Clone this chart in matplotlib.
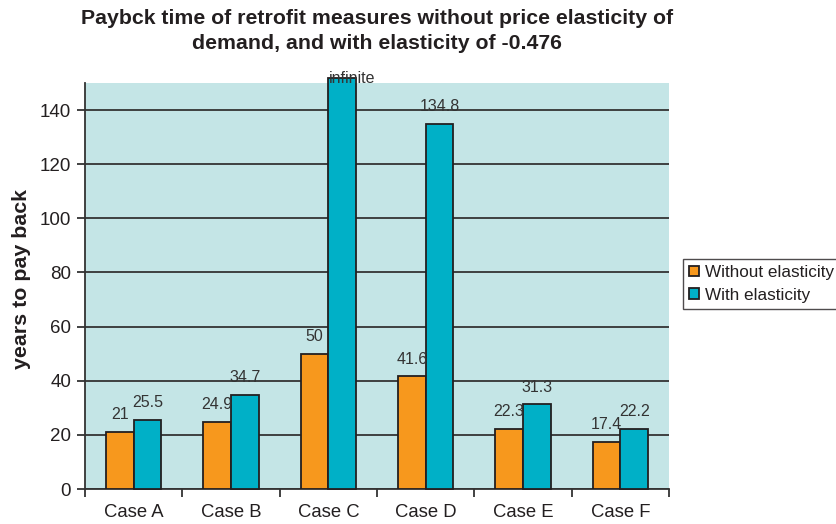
import matplotlib.pyplot as plt
import numpy as np

plt.rcParams["font.family"] = ["Liberation Sans", "DejaVu Sans"]

cases = ["Case A", "Case B", "Case C", "Case D", "Case E", "Case F"]
without_elasticity = [21, 24.9, 50, 41.6, 22.3, 17.4]
with_elasticity = [25.5, 34.7, 152, 134.8, 31.3, 22.2]
with_labels = ["25.5", "34.7", "infinite", "134.8", "31.3", "22.2"]
without_labels = ["21", "24.9", "50", "41.6", "22.3", "17.4"]
yticks = [0, 20, 40, 60, 80, 100, 120, 140]

orange = "#F7981D"
teal = "#00B0C7"
bg = "#C4E5E6"
dark = "#231F20"

fig = plt.figure(figsize=(8.36, 5.24), dpi=100)
ax = fig.add_axes([85 / 836, 1 - 489 / 524, (669 - 85) / 836, (489 - 83) / 524])
ax.set_facecolor(bg)

x = np.arange(len(cases))
w = 0.285
b1 = ax.bar(x - w / 2, without_elasticity, w, color=orange, edgecolor=dark,
            linewidth=1.3, zorder=3, label="Without elasticity")
b2 = ax.bar(x + w / 2, with_elasticity, w, color=teal, edgecolor=dark,
            linewidth=1.3, zorder=3, label="With elasticity", clip_on=False)

for xi, v, t in zip(x, without_elasticity, without_labels):
    ax.annotate(t, (xi - w / 2, v), xytext=(0, 7), textcoords="offset points",
                ha="center", va="bottom", fontsize=11.5, color="#333333")
for xi, v, t in zip(x, with_elasticity, with_labels):
    if t == "infinite":
        ax.text(xi + w / 2 + 0.1, 149, t, ha="center", va="bottom",
                fontsize=11.5, color="#333333", zorder=5)
    else:
        ax.annotate(t, (xi + w / 2, v), xytext=(0, 7), textcoords="offset points",
                    ha="center", va="bottom", fontsize=11.5, color="#333333")

ax.set_ylim(0, 150)
ax.set_xlim(-0.5, len(cases) - 0.5)
ax.set_yticks(yticks)
ax.yaxis.grid(True, color="#333333", linewidth=1.3, zorder=1)
ax.set_axisbelow(True)

ax.set_xticks(x)
ax.set_xticklabels(cases)
ax.set_xticks(np.arange(len(cases) + 1) - 0.5, minor=True)
ax.tick_params(axis="x", which="major", length=0, pad=11, labelsize=13.3, labelcolor=dark)
ax.tick_params(axis="x", which="minor", length=6, width=1.3, color="#333333", direction="out")
ax.tick_params(axis="y", length=6, width=1.3, color="#333333", labelsize=13.5, labelcolor=dark, pad=4)

for s in ["top", "right"]:
    ax.spines[s].set_visible(False)
for s in ["left", "bottom"]:
    ax.spines[s].set_color("#333333")
    ax.spines[s].set_linewidth(1.3)

ax.set_ylabel("years to pay back", fontsize=15.4, fontweight="bold", color=dark,
              va="center")
ax.yaxis.set_label_coords((22 - 85) / 584, (489 - 279) / 406)

fig.text(377 / 836, 1 - 31 / 524,
         "Paybck time of retrofit measures without price elasticity of\n"
         "demand, and with elasticity of -0.476",
         ha="center", va="center", fontsize=15.3, fontweight="bold", color=dark,
         linespacing=1.45)

leg = fig.legend(handles=[b1, b2], loc="upper left",
                 bbox_to_anchor=(683 / 836, 1 - 259 / 524),
                 fontsize=12.3, frameon=True, fancybox=False, edgecolor=dark,
                 handlelength=0.6, handleheight=0.6, handletextpad=0.35,
                 borderpad=0.35, labelspacing=0.45, borderaxespad=0)
leg.get_frame().set_linewidth(1.0)
for t in leg.get_texts():
    t.set_color(dark)

fig.savefig("out.png", dpi=100)
